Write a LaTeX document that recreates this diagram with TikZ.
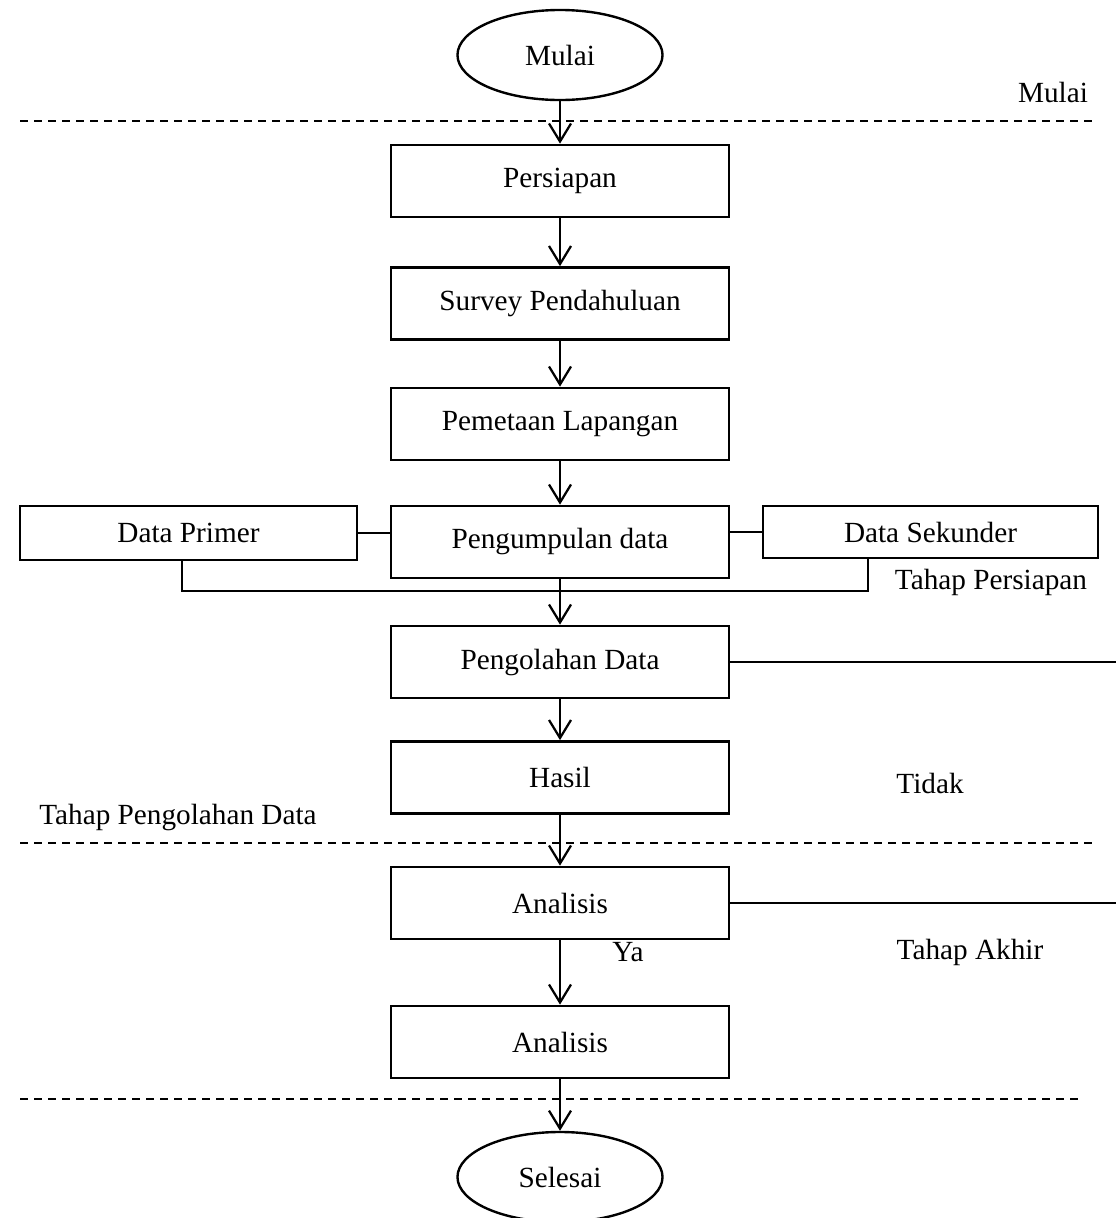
\documentclass[tikz,border=0pt]{standalone}
\usepackage{fontspec}
\setmainfont{Liberation Serif}
\usetikzlibrary{shapes.geometric,arrows.meta}
\begin{document}
\begin{tikzpicture}[x=0.025cm,y=-0.025cm,
    font=\fontsize{20.8}{25}\selectfont,
    kotak/.style={draw,line width=1.9pt,minimum width=8.45cm,minimum height=1.8cm,inner sep=0pt},
    oval/.style={draw,ellipse,line width=1.7pt,minimum width=5.125cm,minimum height=2.25cm,inner sep=0pt},
    panah/.style={line width=1.6pt,-{Straight Barb[length=0.45cm,width=0.55cm,line width=1.6pt]}},
    garis/.style={line width=1.1pt},
    batas/.style={line width=1.3pt,dash pattern=on 0.2cm off 0.15cm}]
    \useasboundingbox (0,0) rectangle (1116,1218);
    % alur utama
    \node[oval] (mulai) at (560,55) {Mulai};
    \node[kotak] (persiapan) at (560,181) {Persiapan};
    \node[kotak] (survey) at (560,303.5) {Survey Pendahuluan};
    \node[kotak] (pemetaan) at (560,424) {Pemetaan Lapangan};
    \node[kotak] (kumpul) at (560,542) {Pengumpulan data};
    \node[kotak,minimum width=8.425cm,minimum height=1.35cm] (primer) at (188.5,533) {Data Primer};
    \node[kotak,minimum width=8.375cm,minimum height=1.3cm] (sekunder) at (930.5,532) {Data Sekunder};
    \node[kotak] (olah) at (560,662) {Pengolahan Data};
    \node[kotak] (hasil) at (560,777.5) {Hasil};
    \node[kotak] (analisis) at (560,903) {Analisis};
    \node[kotak] (analisisb) at (560,1042) {Analisis};
    \node[oval] (selesai) at (560,1177) {Selesai};
    % keterangan tahap
    \node (tmulai) at (1053,92) {Mulai};
    \node (tsiap) at (991,582) {Tahap Persiapan};
    \node (ttidak) at (930,783) {Tidak};
    \node (tolah) at (178,817) {Tahap Pengolahan Data};
    \node (tya) at (628,952) {Ya};
    \node (takhir) at (970,952) {Tahap Akhir};
    % garis batas
    \draw[batas] (20,121) -- (1092,121);
    \draw[batas] (20,843) -- (1092,843);
    \draw[batas] (20,1099) -- (1082,1099);
    % panah
    \draw[panah] (mulai) -- (persiapan);
    \draw[panah] (persiapan) -- (survey);
    \draw[panah] (survey) -- (pemetaan);
    \draw[panah] (pemetaan) -- (kumpul);
    \draw[panah] (kumpul) -- (olah);
    \draw[panah] (olah) -- (hasil);
    \draw[panah] (hasil) -- (analisis);
    \draw[panah] (analisis) -- (analisisb);
    \draw[panah] (analisisb) -- (selesai);
    % data primer dan sekunder
    \coordinate (ujungP) at (182,591);
    \coordinate (ujungS) at (868,591);
    \coordinate (kanan) at (1116,0);
    \draw[garis] (primer.east) -- (primer.east -| kumpul.west);
    \draw[garis] (sekunder.west) -- (sekunder.west -| kumpul.east);
    \draw[garis] (primer.south -| ujungP) -- (ujungP) -- (ujungS) -- (sekunder.south -| ujungS);
    \draw[garis] (olah.east) -- (olah.east -| kanan);
    \draw[garis] (analisis.east) -- (analisis.east -| kanan);
\end{tikzpicture}
\end{document}
